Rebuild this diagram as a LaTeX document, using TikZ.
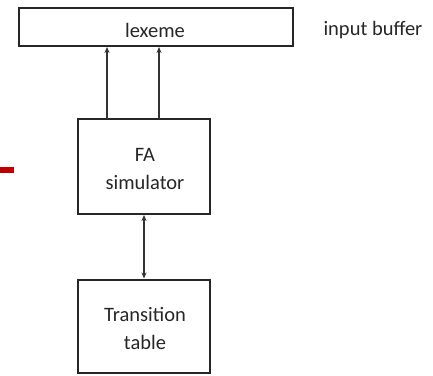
\documentclass[tikz,border=0pt]{standalone}
\usepackage{fontspec}
\setmainfont{Carlito}
\usetikzlibrary{arrows.meta}
\begin{document}
\begin{tikzpicture}[x=1pt,y=-1pt,
  box/.style={draw=black!85, line width=2pt, inner sep=0pt},
  lbl/.style={font=\fontsize{20.5}{28}\selectfont, text=black!85, align=center},
  link/.style={draw=black!80, line width=1.4pt, -{Stealth[length=6pt,width=5pt]}},
  dlink/.style={draw=black!80, line width=1.4pt, {Stealth[length=6pt,width=5pt]}-{Stealth[length=6pt,width=5pt]}}]
  \useasboundingbox (0,0) rectangle (433,375);
  % input buffer
  \node[box, minimum width=274pt, minimum height=38pt] (buf) at (156,27) {};
  \node[lbl] (lex) at (155,30) {lexeme};
  \node[lbl, anchor=west] (ib) at (320,30) {input buffer};
  % FA simulator
  \node[box, minimum width=132pt, minimum height=95pt] (fa) at (144,166.5) {};
  \node[lbl] (falbl) at (145,169) {FA\\simulator};
  % transition table
  \node[box, minimum width=132pt, minimum height=93pt] (tt) at (144,326) {};
  \node[lbl] (ttlbl) at (145,328.5) {Transition\\table};
  % connectors
  \coordinate (a1) at (107,119);
  \coordinate (a2) at (159,119);
  \draw[link] (a1) -- (a1 |- buf.south);
  \draw[link] (a2) -- (a2 |- buf.south);
  \draw[dlink] (fa.south) -- (tt.north);
  % red marker bar
  \fill[red!75!black] (0,167) rectangle (14,173);
\end{tikzpicture}
\end{document}
